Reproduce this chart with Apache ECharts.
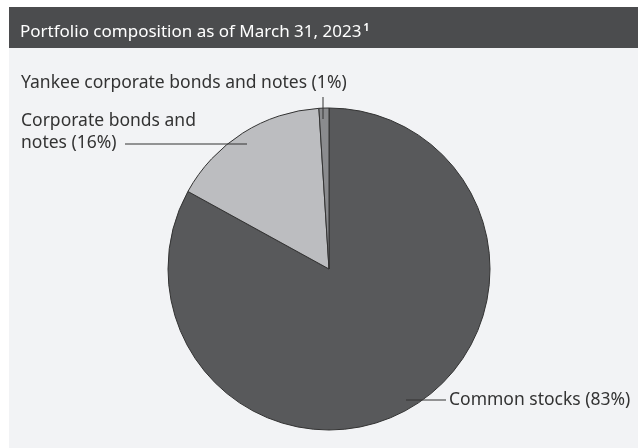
<!DOCTYPE html>
<html><head><meta charset="utf-8">
<script src="https://cdn.jsdelivr.net/npm/echarts@6/dist/echarts.min.js"></script>
<style>html,body{margin:0;padding:0;background:#fff}#c{width:638px;height:448px}</style>
</head><body><div id="c"></div>
<script>
var categories = ['Common stocks', 'Corporate bonds and notes', 'Yankee corporate bonds and notes'];
var labelTexts = ['Common stocks (83%)', 'Corporate bonds and\nnotes (16%)', 'Yankee corporate bonds and notes (1%)'];
var values = [83, 16, 1];
var colors = ['#58595b', '#bcbdc0', '#8a8b8e'];

var FONT = 'Noto Sans';
var layouts = [
  {x: 449, y: 400, align: 'left', verticalAlign: 'middle', pts: [[406, 400], [446, 400], [446, 400]]},
  {x: 21, y: 132, align: 'left', verticalAlign: 'middle', pts: [[247, 144], [125, 144], [125, 144]]},
  {x: 21, y: 83, align: 'left', verticalAlign: 'middle', pts: [[323, 119], [323, 97], [323, 97]]}
];

var pieBase = {
  type: 'pie',
  center: [329, 269],
  radius: 161,
  startAngle: 90,
  clockwise: true,
  silent: true
};

var chart = echarts.init(document.getElementById('c'), null, {renderer: 'canvas'});
chart.setOption({
  animation: false,
  graphic: [
    {type: 'rect', shape: {x: 9, y: 48, width: 629, height: 400}, style: {fill: '#f2f3f5'}, z: -10},
    {type: 'rect', shape: {x: 9, y: 7, width: 629, height: 41}, style: {fill: '#4b4c4e'}, z: -10}
  ],
  title: {
    text: '{t|Portfolio composition as of March 31, 2023}{s|1}',
    left: 15, top: 18,
    textStyle: {
      rich: {
        t: {fontFamily: FONT, fontSize: 17, color: '#ffffff', fontWeight: 'normal'},
        s: {fontFamily: FONT, fontSize: 10, color: '#ffffff', verticalAlign: 'top', padding: [0, 0, 9, 2]}
      }
    }
  },
  series: [
    Object.assign({}, pieBase, {
      z: 2,
      itemStyle: {borderColor: '#333333', borderWidth: 1},
      label: {show: false},
      labelLine: {show: false},
      data: categories.map(function (c, i) {
        return {name: c, value: values[i], itemStyle: {color: colors[i]}};
      })
    }),
    Object.assign({}, pieBase, {
      z: 5,
      itemStyle: {color: 'rgba(0,0,0,0)', borderWidth: 0},
      label: {
        show: true, position: 'outside', color: '#333333', overflow: 'none',
        fontFamily: FONT, fontSize: 17.5, lineHeight: 22,
        formatter: function (p) { return labelTexts[p.dataIndex]; }
      },
      labelLine: {show: true, lineStyle: {color: '#333333', width: 1}},
      labelLayout: function (p) {
        var l = layouts[p.dataIndex];
        return {x: l.x, y: l.y, align: l.align, verticalAlign: l.verticalAlign, labelLinePoints: l.pts};
      },
      data: categories.map(function (c, i) {
        return {name: c, value: values[i]};
      })
    })
  ]
});
</script></body></html>
